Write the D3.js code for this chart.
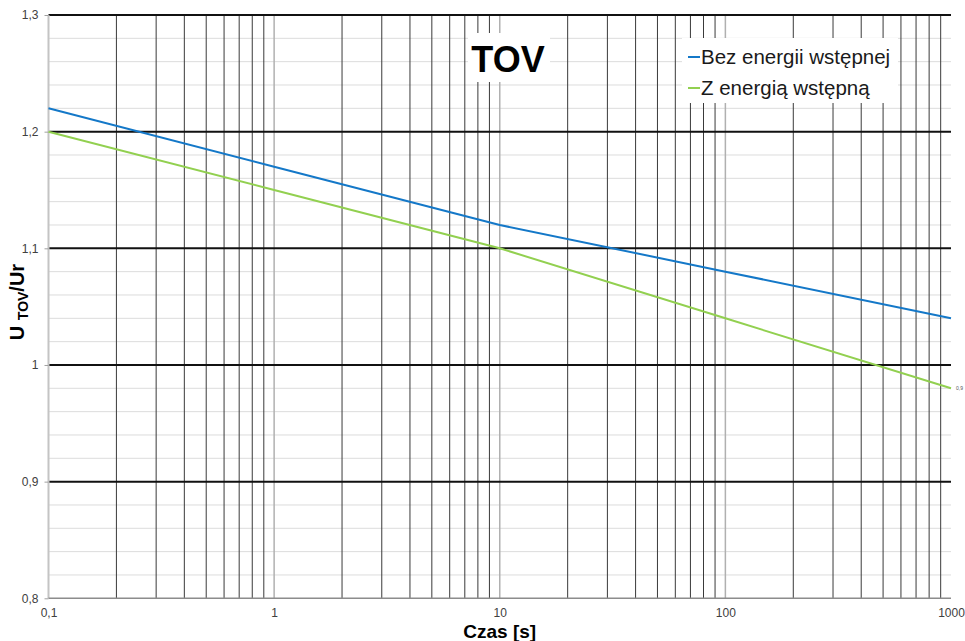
<!DOCTYPE html>
<html>
<head>
<meta charset="utf-8">
<script src="https://cdn.jsdelivr.net/npm/d3@7"></script>
<style>
  body { margin: 0; background: #fff; }
  text { font-family: "Liberation Sans", Arial, sans-serif; }
</style>
</head>
<body>
<div id="chart"></div>
<script>
// chart data
const times = [0.1, 1, 10, 100, 1000];
const bezEnergii = [1.22, 1.17, 1.12, 1.08, 1.04];
const zEnergia = [1.20, 1.15, 1.10, 1.04, 0.98];

const seriesNames = ['Bez energii wstępnej', 'Z energią wstępną'];
const seriesColors = ['#1478c8', '#92d050'];

const xTicks = [0.1, 1, 10, 100, 1000];
const xLabels = ['0,1', '1', '10', '100', '1000'];
const yTicks = [0.8, 0.9, 1.0, 1.1, 1.2, 1.3];
const yLabels = ['0,8', '0,9', '1', '1,1', '1,2', '1,3'];

// canvas
const svgWidth = 965;
const svgHeight = 641;
const plotLeft = 48.5, plotRight = 951, plotTop = 15, plotBottom = 598.3;

const svg = d3.select('#chart')
    .append('svg')
    .attr('width', svgWidth)
    .attr('height', svgHeight);

const xScale = d3.scaleLog().domain([0.1, 1000]).range([plotLeft, plotRight]);
const yScale = d3.scaleLinear().domain([0.8, 1.3]).range([plotBottom, plotTop]);

// minor horizontal grid every 0.02
const yMinor = d3.range(0.82, 1.3, 0.02).filter(v => Math.abs(v * 10 - Math.round(v * 10)) > 0.01);
svg.append('g')
    .selectAll('line')
    .data(yMinor)
    .enter()
    .append('line')
    .attr('x1', plotLeft).attr('x2', plotRight)
    .attr('y1', d => yScale(d)).attr('y2', d => yScale(d))
    .attr('stroke', '#dcdcdc')
    .attr('stroke-width', 1);

// vertical grid (log)
const isDecade = d => [1, 10, 100].includes(d);
const xGrid = xScale.ticks().filter(v => v > 0.1 && v < 1000);
svg.append('g')
    .selectAll('line')
    .data(xGrid)
    .enter()
    .append('line')
    .attr('x1', d => xScale(d)).attr('x2', d => xScale(d))
    .attr('y1', plotTop).attr('y2', plotBottom)
    .attr('stroke', d => isDecade(d) ? '#b0b0b0' : '#3a3a3a')
    .attr('stroke-width', d => isDecade(d) ? 1.5 : 1);

// major horizontal lines
svg.append('g')
    .selectAll('line')
    .data(yTicks.filter(v => v > 0.8))
    .enter()
    .append('line')
    .attr('x1', plotLeft).attr('x2', plotRight)
    .attr('y1', d => yScale(d)).attr('y2', d => yScale(d))
    .attr('stroke', '#111')
    .attr('stroke-width', 2);

// axes lines
svg.append('line')
    .attr('x1', plotLeft).attr('x2', plotLeft)
    .attr('y1', plotTop).attr('y2', plotBottom)
    .attr('stroke', '#c4c4c4')
    .attr('stroke-width', 2);
svg.append('line')
    .attr('x1', plotLeft).attr('x2', plotRight)
    .attr('y1', plotBottom).attr('y2', plotBottom)
    .attr('stroke', '#8c8c8c')
    .attr('stroke-width', 1.5);

// y axis
const yAxis = d3.axisLeft(yScale)
    .tickValues(yTicks)
    .tickFormat((d, i) => yLabels[i])
    .tickSize(4)
    .tickPadding(6);
const gy = svg.append('g')
    .attr('transform', 'translate(' + plotLeft + ', 0)')
    .call(yAxis);
gy.select('.domain').remove();
gy.selectAll('line').attr('stroke', '#a0a0a0');
gy.selectAll('text').attr('font-size', '12px').attr('fill', '#404040')
    .style('font-family', '"Liberation Sans", Arial, sans-serif');

// x axis
const xAxis = d3.axisBottom(xScale)
    .tickValues(xTicks)
    .tickFormat((d, i) => xLabels[i])
    .tickSize(0)
    .tickPadding(10);
const gx = svg.append('g')
    .attr('transform', 'translate(0, ' + plotBottom + ')')
    .call(xAxis);
gx.select('.domain').remove();
gx.selectAll('text').attr('font-size', '12px').attr('fill', '#404040')
    .style('font-family', '"Liberation Sans", Arial, sans-serif');

// series
const line = d3.line()
    .x(d => xScale(d[0]))
    .y(d => yScale(d[1]));

[bezEnergii, zEnergia].forEach(function(vals, i) {
    svg.append('path')
        .datum(times.map((t, j) => [t, vals[j]]))
        .attr('d', line)
        .attr('fill', 'none')
        .attr('stroke', seriesColors[i])
        .attr('stroke-width', 2);
});

// tiny end label
svg.append('text')
    .attr('x', xScale(1000) + 5)
    .attr('y', yScale(zEnergia[4]) + 2)
    .attr('font-size', '5px')
    .attr('fill', '#555')
    .text('0,9');

// title box
svg.append('rect')
    .attr('x', 468).attr('y', 33)
    .attr('width', 82).attr('height', 49)
    .attr('fill', '#fff');
svg.append('text')
    .attr('x', 508).attr('y', 72)
    .attr('text-anchor', 'middle')
    .attr('font-size', '36px')
    .attr('font-weight', 'bold')
    .attr('fill', '#000')
    .text('TOV');

// legend
svg.append('rect')
    .attr('x', 682).attr('y', 38)
    .attr('width', 216).attr('height', 65)
    .attr('fill', '#fff');
seriesNames.forEach(function(name, i) {
    const ly = 57 + i * 31;
    svg.append('line')
        .attr('x1', 688).attr('x2', 700)
        .attr('y1', ly).attr('y2', ly)
        .attr('stroke', seriesColors[i])
        .attr('stroke-width', 2);
    svg.append('text')
        .attr('x', 701).attr('y', ly + 7)
        .attr('font-size', '20.5px')
        .attr('fill', '#1a1a1a')
        .text(name);
});

// axis titles
svg.append('text')
    .attr('x', (plotLeft + plotRight) / 2)
    .attr('y', 638)
    .attr('text-anchor', 'middle')
    .attr('font-size', '19px')
    .attr('font-weight', 'bold')
    .text('Czas [s]');

const yTitle = svg.append('text')
    .attr('transform', 'rotate(-90)')
    .attr('x', -302)
    .attr('y', 24)
    .attr('text-anchor', 'middle')
    .attr('font-weight', 'bold')
    .attr('font-size', '20px');
yTitle.append('tspan').text('U ');
yTitle.append('tspan').attr('font-size', '14px').attr('dy', 4).text('TOV');
yTitle.append('tspan').attr('dy', -4).text('/Ur');
</script>
</body>
</html>
